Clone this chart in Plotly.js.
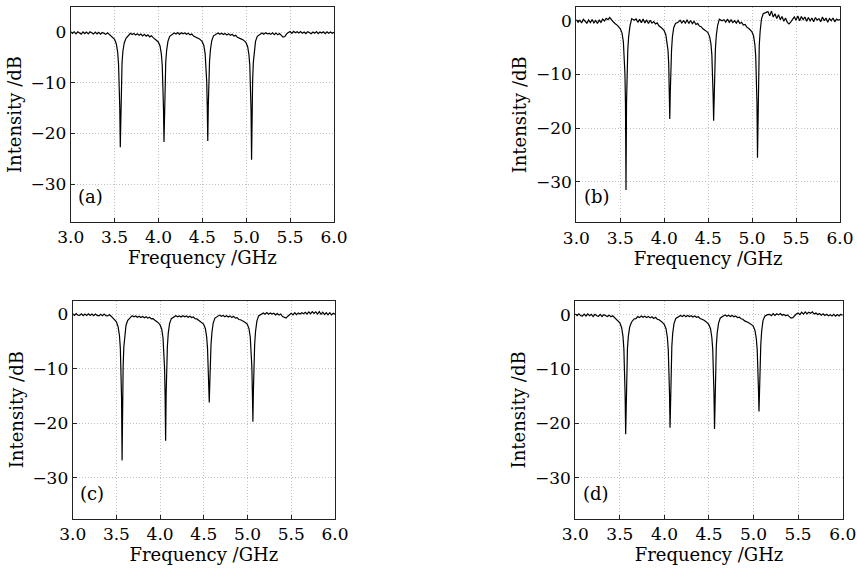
<!DOCTYPE html>
<html>
<head>
<meta charset="utf-8">
<script src="https://cdn.plot.ly/plotly-3.0.1.min.js"></script>
<style>html,body{margin:0;padding:0;background:#fff;}#chart{width:857px;height:570px;}</style>
</head>
<body>
<div id="chart"></div>
<script>
// Shared frequency grid (GHz)
const freq = [
  3.00,3.02,3.04,3.06,3.08,3.10,3.12,3.14,3.16,3.18,3.20,3.22,3.24,3.26,3.28,3.30,3.32,3.34,3.36,3.38,3.40,3.42,3.44,
  3.470,3.500,3.520,3.535,3.545,3.553,3.559,3.565,3.571,3.577,3.585,3.595,3.610,3.630,3.660,
  3.68,3.70,3.72,3.74,3.76,3.78,3.80,3.82,3.84,3.86,3.88,3.90,3.92,3.94,
  3.968,3.998,4.018,4.033,4.043,4.051,4.057,4.063,4.069,4.075,4.083,4.093,4.108,4.128,4.158,
  4.18,4.20,4.22,4.24,4.26,4.28,4.30,4.32,4.34,4.36,4.38,4.40,4.42,4.44,
  4.467,4.497,4.517,4.532,4.542,4.550,4.556,4.562,4.568,4.574,4.582,4.592,4.607,4.627,4.657,
  4.68,4.70,4.72,4.74,4.76,4.78,4.80,4.82,4.84,4.86,4.88,4.90,4.92,4.94,
  4.966,4.996,5.016,5.031,5.041,5.049,5.055,5.061,5.067,5.073,5.081,5.091,5.106,5.126,5.156,
  5.18,5.20,5.22,5.24,5.26,5.28,5.30,5.32,5.34,5.36,5.38,5.40,5.42,5.44,5.46,5.48,5.50,5.52,5.54,5.56,
  5.58,5.60,5.62,5.64,5.66,5.68,5.70,5.72,5.74,5.76,5.78,5.80,5.82,5.84,5.86,5.88,5.90,5.92,5.94,5.96,5.98,6.00
];

// Intensity (dB), panel (a)
const intensityA = [
  0.15,-0.2,0.1,-0.3,0.1,-0.15,-0.35,0.1,-0.25,0.05,-0.3,0.1,-0.2,-0.35,0.05,-0.3,0.0,-0.35,-0.05,-0.25,-0.4,-0.1,-0.45,
  -0.8,-1.4,-2.3,-3.9,-6.2,-9.7,-14.8,-22.7,-14.6,-9.5,-6.0,-3.7,-2.1,-1.2,-0.7,
  -0.2,-0.45,-0.25,-0.55,-0.3,-0.6,-0.35,-0.7,-0.4,-0.75,-0.5,-0.9,-0.7,-1.05,
  -1.4,-1.9,-2.7,-4.3,-6.5,-9.9,-14.8,-21.7,-14.5,-9.4,-5.9,-3.6,-1.8,-0.8,-0.4,
  -0.15,-0.35,-0.05,-0.4,-0.1,-0.3,-0.15,-0.4,-0.2,-0.5,-0.35,-0.75,-0.9,-1.15,
  -1.3,-1.8,-2.6,-4.2,-6.4,-9.8,-14.7,-21.5,-14.4,-9.3,-5.8,-3.5,-1.7,-0.7,-0.4,
  -0.15,-0.4,-0.2,-0.45,-0.25,-0.55,-0.3,-0.6,-0.4,-0.75,-0.6,-1.0,-1.1,-1.3,
  -1.5,-2.0,-2.8,-4.4,-6.6,-10.0,-15.3,-25.2,-15.0,-9.6,-6.0,-3.6,-1.8,-0.8,-0.4,
  -0.15,-0.4,-0.1,-0.3,-0.2,-0.4,-0.1,-0.45,-0.15,-0.5,-0.25,-0.6,-0.95,-0.85,-0.3,-0.05,0.15,-0.2,0.2,-0.1,
  0.1,-0.15,0.15,-0.2,0.05,-0.25,0.1,-0.05,-0.3,0.05,-0.2,0.15,-0.25,0.05,-0.15,0.1,-0.25,0.1,-0.2,0.05,-0.2,0.0
];

// Intensity (dB), panel (b)
const intensityB = [
  0.2,-0.3,0.1,-0.4,0.25,-0.2,-0.45,0.15,-0.35,0.2,-0.4,0.05,-0.5,0.1,-0.3,0.3,-0.05,0.45,0.2,0.6,0.1,-0.2,-0.5,
  -0.9,-1.5,-2.3,-3.9,-6.2,-9.9,-15.4,-31.5,-15.2,-9.6,-5.6,-3.0,-1.0,0.4,0.1,
  0.35,-0.3,0.25,-0.35,0.3,-0.4,0.15,-0.5,0.1,-0.45,-0.15,-0.6,-0.4,-0.95,
  -1.3,-1.8,-2.6,-4.0,-5.5,-8.0,-13.5,-18.3,-13.3,-8.8,-5.5,-3.0,-1.3,-0.5,-0.3,
  0.1,-0.4,0.0,-0.45,0.2,-0.5,0.05,-0.55,-0.1,-0.7,-0.5,-1.0,-1.1,-1.5,
  -1.8,-2.2,-3.0,-4.4,-6.4,-9.5,-13.8,-18.6,-13.5,-8.8,-5.3,-2.8,-0.9,0.3,0.0,
  0.2,-0.25,0.3,-0.3,0.15,-0.35,0.0,-0.45,0.05,-0.5,-0.3,-0.8,-0.7,-1.2,
  -1.5,-2.0,-2.8,-4.4,-6.6,-10.0,-15.3,-25.5,-14.6,-8.5,-4.6,-2.0,0.3,1.3,1.6,
  1.7,0.9,1.8,0.7,1.3,0.4,1.1,0.2,0.8,-0.1,0.5,-0.3,-0.6,-0.2,0.2,0.7,0.1,0.9,0.0,0.8,
  0.2,0.7,-0.1,0.6,0.0,0.5,-0.2,0.6,0.1,0.4,-0.2,0.7,0.0,0.5,-0.3,0.4,0.0,0.5,-0.2,0.3,0.1,0.2
];

// Intensity (dB), panel (c)
const intensityC = [
  0.1,-0.2,0.15,-0.15,-0.2,0.1,-0.25,0.05,-0.2,0.1,-0.2,0.05,-0.25,0.05,-0.2,-0.3,0.0,-0.25,0.05,-0.25,-0.3,-0.05,-0.35,
  -0.8,-1.4,-2.3,-3.9,-6.2,-9.8,-15.3,-26.8,-15.1,-9.6,-6.0,-3.7,-2.0,-1.1,-0.6,
  -0.25,-0.45,-0.3,-0.55,-0.35,-0.6,-0.4,-0.65,-0.45,-0.7,-0.55,-0.85,-0.8,-1.1,
  -1.4,-1.9,-2.7,-4.3,-6.5,-9.9,-14.9,-23.2,-14.6,-9.5,-5.9,-3.5,-1.7,-0.8,-0.4,
  -0.25,-0.45,-0.3,-0.5,-0.25,-0.45,-0.3,-0.55,-0.35,-0.6,-0.5,-0.8,-0.85,-1.1,
  -1.4,-1.8,-2.6,-4.1,-6.2,-9.2,-13.0,-16.2,-12.7,-8.8,-5.6,-3.4,-1.6,-0.7,-0.3,
  -0.15,-0.35,-0.2,-0.45,-0.25,-0.5,-0.3,-0.6,-0.35,-0.7,-0.6,-0.95,-1.0,-1.2,
  -1.4,-1.8,-2.6,-4.2,-6.4,-9.6,-14.2,-19.7,-13.9,-9.2,-5.6,-3.2,-1.3,-0.3,0.1,
  0.25,0.0,0.3,0.0,0.25,0.05,0.2,-0.1,0.15,-0.15,0.05,-0.4,-0.55,-0.7,-0.35,0.0,0.2,-0.1,0.3,-0.05,
  0.25,0.05,0.3,0.1,0.35,0.05,0.45,0.1,0.5,0.15,0.45,0.05,0.5,0.0,0.4,-0.05,0.3,-0.1,0.3,-0.1,0.2,0.0
];

// Intensity (dB), panel (d)
const intensityD = [
  0.15,-0.2,0.15,-0.2,-0.25,0.1,-0.25,0.15,-0.2,0.05,-0.35,0.05,-0.2,-0.3,0.05,-0.35,0.0,-0.25,-0.35,-0.1,-0.4,-0.2,-0.55,
  -0.9,-1.5,-2.4,-4.0,-6.3,-9.8,-14.8,-22.0,-14.6,-9.6,-6.2,-4.0,-2.3,-1.4,-0.8,
  -0.75,-0.35,-0.55,-0.25,-0.5,-0.3,-0.55,-0.35,-0.6,-0.4,-0.7,-0.5,-0.85,-0.95,
  -1.3,-1.8,-2.6,-4.2,-6.4,-9.8,-14.6,-20.8,-14.3,-9.3,-5.8,-3.4,-1.6,-0.7,-0.3,
  -0.15,-0.35,-0.1,-0.4,-0.15,-0.35,-0.2,-0.45,-0.25,-0.5,-0.4,-0.7,-0.8,-1.0,
  -1.3,-1.8,-2.6,-4.2,-6.4,-9.8,-14.6,-21.0,-14.3,-9.3,-5.8,-3.4,-1.6,-0.6,-0.2,
  -0.05,-0.3,-0.1,-0.35,-0.15,-0.4,-0.25,-0.55,-0.45,-0.75,-0.85,-1.15,-1.25,-1.45,
  -1.7,-2.1,-2.9,-4.4,-6.5,-9.6,-13.7,-17.8,-13.4,-9.0,-5.5,-3.0,-1.1,-0.3,0.0,
  0.05,-0.2,0.2,-0.15,0.15,-0.05,0.2,-0.1,0.05,-0.2,-0.05,-0.45,-0.65,-0.55,-0.15,0.1,0.3,0.0,0.45,0.1,
  0.5,0.15,0.45,0.25,0.5,0.1,0.3,0.0,0.2,-0.1,0.15,-0.15,0.05,-0.2,0.0,-0.25,0.05,-0.3,0.0,-0.25,0.05,-0.15
];

const panelLabels = ["(a)", "(b)", "(c)", "(d)"];
const xTickVals = [3.0, 3.5, 4.0, 4.5, 5.0, 5.5, 6.0];
const yTickVals = [0, -10, -20, -30];
const yRanges = [[-37.5, 5], [-37.5, 2.5], [-37.5, 2.5], [-37.5, 2.5]];
const series = [intensityA, intensityB, intensityC, intensityD];

const xDomains = [[0.0825, 0.3897], [0.6725, 0.9802], [0.0848, 0.3909], [0.6713, 0.9833]];
const yDomains = [[0.6105, 0.9877], [0.6100, 0.9872], [0.0900, 0.4725], [0.0900, 0.4719]];

const FONT = "DejaVu Serif, Liberation Serif, serif";
const data = [];
const layout = {
  width: 857, height: 570,
  margin: {l: 0, r: 0, t: 0, b: 0},
  paper_bgcolor: "#ffffff", plot_bgcolor: "#ffffff",
  showlegend: false,
  font: {family: FONT, size: 17, color: "#000"},
  annotations: []
};

for (let i = 0; i < 4; i++) {
  const sfx = i === 0 ? "" : String(i + 1);
  data.push({
    type: "scatter", mode: "lines",
    x: freq, y: series[i],
    xaxis: "x" + sfx, yaxis: "y" + sfx,
    line: {color: "#000", width: 1.2},
    hoverinfo: "skip"
  });
  const common = {
    showline: true, mirror: true, linecolor: "#222", linewidth: 1,
    ticks: "inside", ticklen: 4, tickcolor: "#222", tickwidth: 1,
    showgrid: true, gridcolor: "#c2c2c2", griddash: "1px,2px", gridwidth: 1,
    zeroline: false,
    tickfont: {family: FONT, size: 17, color: "#000"}
  };
  layout["xaxis" + sfx] = Object.assign({}, common, {
    domain: xDomains[i], anchor: "y" + sfx,
    range: [3.0, 6.0], tickvals: xTickVals, tickformat: ".1f",
    title: {text: "Frequency /GHz", font: {family: FONT, size: 18, color: "#000"}, standoff: 2}
  });
  layout["yaxis" + sfx] = Object.assign({}, common, {
    domain: yDomains[i], anchor: "x" + sfx,
    range: yRanges[i], tickvals: yTickVals,
    title: {text: "Intensity /dB", font: {family: FONT, size: 18, color: "#000"}, standoff: 4}
  });
  layout.annotations.push({
    text: panelLabels[i], showarrow: false,
    xref: "x" + sfx + " domain", yref: "y" + sfx + " domain",
    x: 0.02, y: 0.06, xanchor: "left", yanchor: "bottom",
    font: {family: FONT, size: 18, color: "#000"}
  });
}

Plotly.newPlot("chart", data, layout, {staticPlot: true, displayModeBar: false});
</script>
</body>
</html>
